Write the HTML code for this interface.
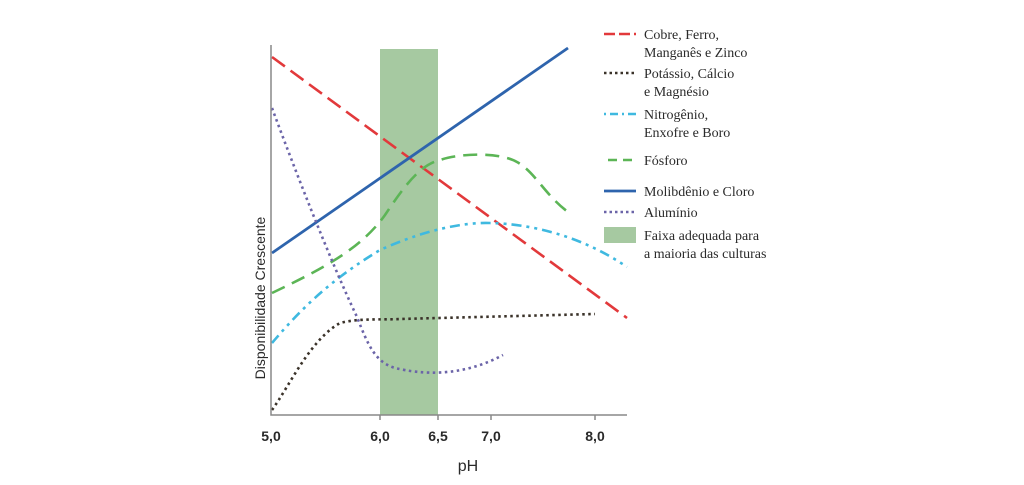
<!DOCTYPE html><html><head><style>body{margin:0;background:#fff;}svg{display:block}</style></head><body>
<svg width="1024" height="485" xmlns="http://www.w3.org/2000/svg">
<rect x="380" y="49" width="58" height="366" fill="#a6c9a1"/>
<g fill="none" stroke-width="2.6">
<path d="M272 57 L627 318" stroke="#e2393b" stroke-dasharray="16 7"/>
<path d="M272 253 L568 48" stroke="#2e64ad" stroke-width="2.8"/>
<path d="M272 293 C320 270 360 250 385 215 C405 185 420 165 440 160 C460 153 500 152 517 162 C535 172 545 195 568 212" stroke="#5cb556" stroke-dasharray="14 8"/>
<path d="M272 343 C300 310 330 280 380 250 C420 232 460 222 490 223 C530 224 580 235 627 267" stroke="#3fb9e0" stroke-dasharray="10 5 3 5 3 5"/>
<path d="M272 410 C290 385 310 340 340 323 C360 318 380 320 400 319 L595 314" stroke="#3a3229" stroke-dasharray="2.5 3.5"/>
<path d="M272 108 C295 170 330 260 357 317 C368 345 375 362 395 368 C420 374 460 378 503 355" stroke="#6b64a8" stroke-dasharray="2.5 3.5"/>
</g>
<path d="M271 45 L271 415 L627 415" fill="none" stroke="#888" stroke-width="1.5"/>
<g stroke="#888" stroke-width="1.5"><line x1="380" y1="415" x2="380" y2="420"/><line x1="438" y1="415" x2="438" y2="420"/><line x1="491" y1="415" x2="491" y2="420"/><line x1="595" y1="415" x2="595" y2="420"/></g>
<g font-family="Liberation Sans, sans-serif" font-size="14" fill="#2a2a2a" text-anchor="middle" font-weight="bold">
<text x="271" y="441">5,0</text><text x="380" y="441">6,0</text><text x="438" y="441">6,5</text><text x="491" y="441">7,0</text><text x="595" y="441">8,0</text>
<text x="468" y="471" font-size="16" font-weight="normal">pH</text>
<text transform="translate(265,298) rotate(-90)" font-size="14" font-weight="normal">Disponibilidade Crescente</text>
</g>
<g font-family="Liberation Serif, serif" font-size="14" fill="#2a2a2a">
<line x1="604" y1="34" x2="636" y2="34" stroke="#e2393b" stroke-width="2.5" stroke-dasharray="11 4"/>
<text x="644" y="39">Cobre, Ferro,</text><text x="644" y="57">Manganês e Zinco</text>
<line x1="604" y1="73" x2="636" y2="73" stroke="#3a3229" stroke-width="2.5" stroke-dasharray="2.5 3"/>
<text x="644" y="78">Potássio, Cálcio</text><text x="644" y="96">e Magnésio</text>
<line x1="604" y1="114" x2="636" y2="114" stroke="#3fb9e0" stroke-width="2.5" stroke-dasharray="2 4 8 4"/>
<text x="644" y="119">Nitrogênio,</text><text x="644" y="137">Enxofre e Boro</text>
<line x1="608" y1="160" x2="636" y2="160" stroke="#5cb556" stroke-width="2.5" stroke-dasharray="9 6"/>
<text x="644" y="165">Fósforo</text>
<line x1="604" y1="191" x2="636" y2="191" stroke="#2e64ad" stroke-width="2.8"/>
<text x="644" y="196">Molibdênio e Cloro</text>
<line x1="604" y1="212" x2="636" y2="212" stroke="#6b64a8" stroke-width="2.5" stroke-dasharray="2.5 3"/>
<text x="644" y="217">Alumínio</text>
<rect x="604" y="227" width="32" height="16" fill="#a6c9a1"/>
<text x="644" y="240">Faixa adequada para</text><text x="644" y="258">a maioria das culturas</text>
</g>
</svg></body></html>
